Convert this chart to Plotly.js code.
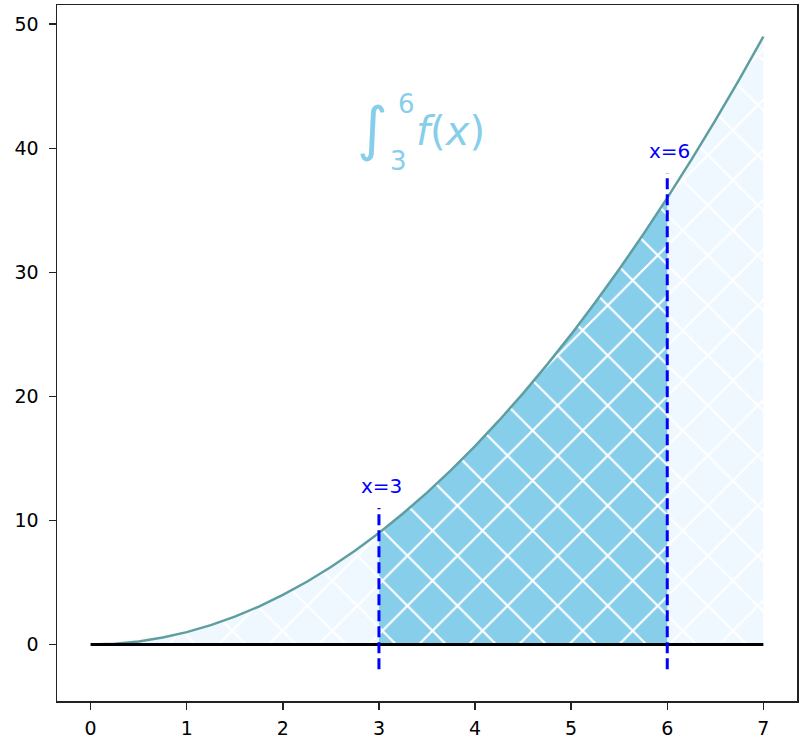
<!DOCTYPE html>
<html>
<head>
<meta charset="utf-8">
<script src="https://cdn.plot.ly/plotly-3.0.1.min.js"></script>
<style>html,body{margin:0;padding:0;background:#fff;}#chart{width:812px;height:744px;}</style>
</head>
<body>
<div id="chart"></div>
<script>
// Curve f(x) = x^2
const xs = [0,0.25,0.5,0.75,1,1.25,1.5,1.75,2,2.25,2.5,2.75,3,3.25,3.5,3.75,4,4.25,4.5,4.75,5,5.25,5.5,5.75,6,6.25,6.5,6.75,7];
const ys = [0,0.0625,0.25,0.5625,1,1.5625,2.25,3.0625,4,5.0625,6.25,7.5625,9,10.5625,12.25,14.0625,16,18.0625,20.25,22.5625,25,27.5625,30.25,33.0625,36,39.0625,42.25,45.5625,49];
// Integration bounds and marker lines
const bounds = [3, 6];
const boundLineBottom = [-2, -2];
const boundLineTop = [11, 38];
const boundLabels = ['x=3', 'x=6'];
const boundLabelY = [12, 39];
const baseX = [0, 7];
const baseY = [0, 0];

const subX = [], subY = [];
xs.forEach((x, i) => { if (x >= bounds[0] && x <= bounds[1]) { subX.push(x); subY.push(ys[i]); } });

const pat = (bg) => ({shape: 'x', bgcolor: bg, fgcolor: '#ffffff', size: 35.4, solidity: 0.12, fillmode: 'replace'});

const traces = [
  {x: xs, y: ys, type: 'scatter', mode: 'lines', fill: 'tozeroy', fillcolor: '#f0f8ff',
   fillpattern: pat('#f0f8ff'), line: {width: 0, color: 'rgba(0,0,0,0)'}, hoverinfo: 'skip'},
  {x: subX, y: subY, type: 'scatter', mode: 'lines', fill: 'tozeroy', fillcolor: '#87ceeb',
   fillpattern: pat('#87ceeb'), line: {width: 0, color: 'rgba(0,0,0,0)'}, hoverinfo: 'skip'},
  {x: xs, y: ys, type: 'scatter', mode: 'lines', line: {color: '#5f9ea0', width: 2.5}},
  {x: baseX, y: baseY, type: 'scatter', mode: 'lines', line: {color: '#000000', width: 3}}
];
bounds.forEach((b, i) => {
  traces.push({x: [b, b], y: [boundLineBottom[i], boundLineTop[i]], type: 'scatter', mode: 'lines',
    line: {color: '#0000ff', width: 3, dash: '11px,5px'}});
});

const annotations = bounds.map((b, i) => ({
  x: b, y: boundLabelY[i], xref: 'x', yref: 'y', text: boundLabels[i], showarrow: false,
  xanchor: 'center', yanchor: 'bottom', xshift: 2.5, yshift: -4,
  font: {family: 'DejaVu Sans', size: 20, color: '#0000ff'}
}));
const sky = '#87ceeb';
annotations.push(
  {x: 2.93, y: 41.6, xref: 'x', yref: 'y', text: '\u222B', showarrow: false, xanchor: 'center', yanchor: 'middle',
   font: {family: 'DejaVu Sans', size: 59, color: sky}},
  {x: 3.285, y: 43.6, xref: 'x', yref: 'y', text: '6', showarrow: false, xanchor: 'center', yanchor: 'middle',
   font: {family: 'DejaVu Sans', size: 26, color: sky}},
  {x: 3.205, y: 39.0, xref: 'x', yref: 'y', text: '3', showarrow: false, xanchor: 'center', yanchor: 'middle',
   font: {family: 'DejaVu Sans', size: 26, color: sky}},
  {x: 3.74, y: 41.4, xref: 'x', yref: 'y', text: '<i>f</i>(<i>x</i>)', showarrow: false, xanchor: 'center', yanchor: 'middle',
   font: {family: 'DejaVu Sans', size: 40, color: sky}}
);

const axisCommon = {
  showgrid: false, zeroline: false, showline: true, mirror: true, linecolor: '#222222', linewidth: 1.5,
  ticks: 'outside', ticklen: 7, tickwidth: 1.5, tickcolor: '#222222',
  tickfont: {family: 'DejaVu Sans', size: 19, color: '#000000'}
};

const layout = {
  width: 812, height: 744,
  margin: {l: 57, r: 15, t: 5, b: 43},
  paper_bgcolor: '#ffffff', plot_bgcolor: '#ffffff',
  showlegend: false,
  xaxis: Object.assign({}, axisCommon, {range: [-0.35, 7.35], tickmode: 'linear', tick0: 0, dtick: 1, ticklabelstandoff: 3}),
  yaxis: Object.assign({}, axisCommon, {range: [-4.55, 51.55], tickmode: 'linear', tick0: 0, dtick: 10, ticklabelstandoff: 6}),
  annotations: annotations
};

Plotly.newPlot('chart', traces, layout, {displayModeBar: false, staticPlot: true});
</script>
</body>
</html>
